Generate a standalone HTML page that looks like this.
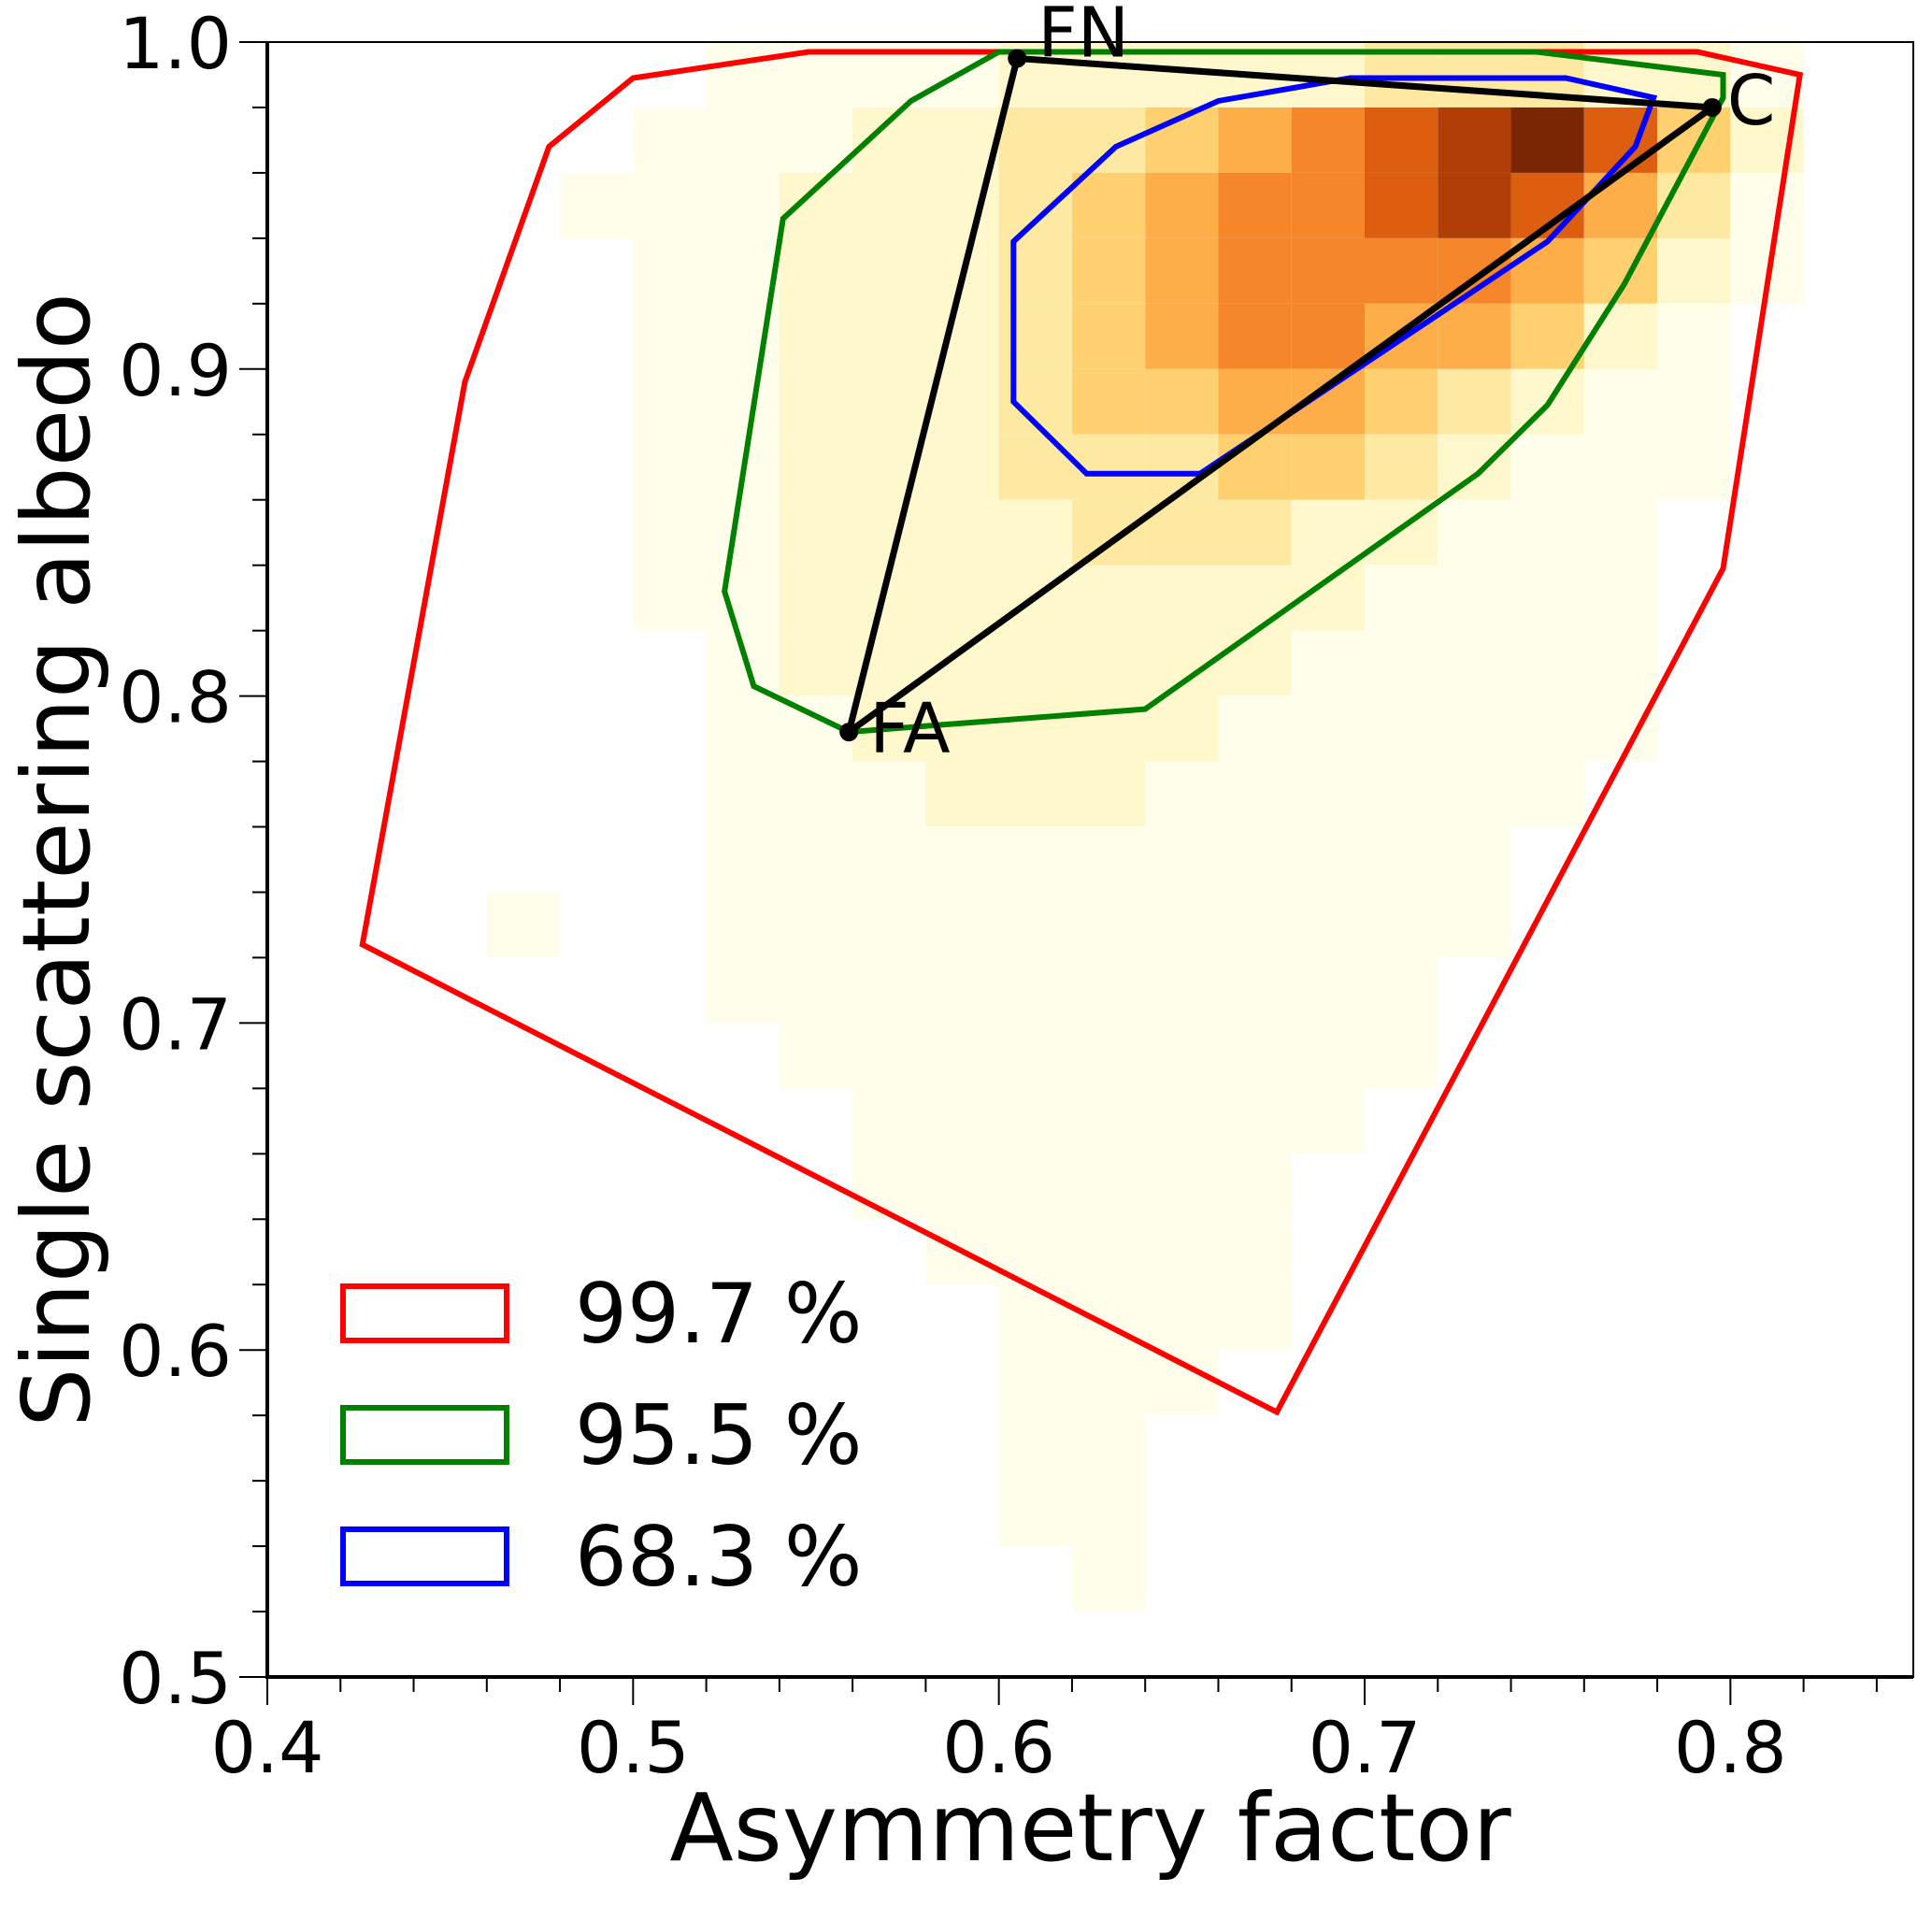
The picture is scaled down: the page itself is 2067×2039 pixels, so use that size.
<!DOCTYPE html>
<html><head><meta charset="utf-8"><style>
html,body{margin:0;padding:0;background:#fff}
svg text{font-family:"DejaVu Sans","Liberation Sans",sans-serif;fill:#000}
</style></head><body>
<svg id="chart" width="2067" height="2034" viewBox="0 0 2067 2034" xmlns="http://www.w3.org/2000/svg">
<g id="heat"></g>
<g id="polys"></g>
<g id="axes"></g>
<g id="legend"></g>
</svg>
<script>
// heatmap rows: top (0.98-1.00) down to (0.50-0.52), columns x 0.40..0.84 step 0.02
const heatRows = [
"0000001111222223332210",
"0000011122334567897420",
"0000111222345667875310",
"0000011222345666654210",
"0000011222345665542100",
"0000011222344554321100",
"0000011222333443211100",
"0000011222233322111000",
"0000011222222221111000",
"0000001222222211111000",
"0000001122222111111000",
"0000001112221111110000",
"0000001111111111100000",
"0001001111111111100000",
"0000001111111111000000",
"0000000111111111000000",
"0000000011111110000000",
"0000000011111100000000",
"0000000001111100000000",
"0000000000111100000000",
"0000000000111000000000",
"0000000000110000000000",
"0000000000110000000000",
"0000000000010000000000",
"0000000000000000000000"];
const heatX0 = 0.40, heatY0 = 1.00, heatStep = 0.02;
const redX = [0.477,0.500,0.548,0.791,0.819,0.798,0.676,0.426,0.454];
const redY = [0.968,0.989,0.997,0.997,0.990,0.839,0.581,0.724,0.896];
const greenX = [0.600,0.747,0.798,0.798,0.771,0.750,0.731,0.640,0.559,0.533,0.525,0.541,0.576];
const greenY = [0.997,0.997,0.990,0.983,0.926,0.889,0.868,0.796,0.789,0.803,0.832,0.946,0.982];
const blueX = [0.604,0.604,0.624,0.655,0.750,0.774,0.779,0.755,0.696,0.660,0.632];
const blueY = [0.939,0.890,0.868,0.868,0.939,0.968,0.983,0.989,0.989,0.982,0.968];
const triNames = ["FN","C","FA"];
const triX = [0.605,0.795,0.559];
const triY = [0.995,0.980,0.789];
const xTicks = ["0.4","0.5","0.6","0.7","0.8"];
const yTicks = ["0.5","0.6","0.7","0.8","0.9","1.0"];
const legendLabels = ["99.7 %","95.5 %","68.3 %"];

const L=286,R=2047,T=45,B=1794;
const sx = v => L + (v-0.4)/0.45*(R-L);
const sy = v => B - (v-0.5)/0.5*(B-T);
const NS="http://www.w3.org/2000/svg";
function mk(tag,parent,attrs){const e=document.createElementNS(NS,tag);for(const k in attrs)e.setAttribute(k,attrs[k]);parent.appendChild(e);return e;}
const colors=["#ffffff","#fffeea","#fff8cc","#fee9a2","#fed070","#feae48","#f5862a","#de5e10","#b03e06","#7a2504"];
const heat=document.getElementById('heat');
heatRows.forEach((row,ri)=>{
  for(let ci=0;ci<row.length;ci++){
    const lv=+row[ci]; if(!lv) continue;
    const x0=heatX0+ci*heatStep, y1=heatY0-ri*heatStep;
    const x=Math.max(L,sx(x0)), x2=Math.min(R,sx(x0+heatStep));
    const r=mk('rect',heat,{x:x,y:sy(y1),width:x2-x,height:sy(y1-heatStep)-sy(y1),fill:colors[lv]});
    
    
  }
});
const polys=document.getElementById('polys');
function poly(xs,ys,col,name){
  const pts=xs.map((v,i)=>sx(v)+','+sy(ys[i])).join(' ');
  const p=mk('polygon',polys,{points:pts,fill:'none',stroke:col,'stroke-width':6,'stroke-linejoin':'miter'});
  
  
}
poly(redX,redY,'#ff0000','contour-99-7');
poly(greenX,greenY,'#008000','contour-95-5');
poly(blueX,blueY,'#0000ff','contour-68-3');
const tri=mk('polygon',polys,{points:triX.map((v,i)=>sx(v)+','+sy(triY[i])).join(' '),fill:'none',stroke:'#000','stroke-width':7});


const offs=[[22,-2],[16,18],[22,22]];
triNames.forEach((n,i)=>{
  const c=mk('circle',polys,{cx:sx(triX[i]),cy:sy(triY[i]),r:10,fill:'#000'});
  
  
  const t=mk('text',polys,{x:sx(triX[i])+offs[i][0],y:sy(triY[i])+offs[i][1],'font-size':74});
  t.textContent=n;
  
  
});
const ax=document.getElementById('axes');
const frame=mk('rect',ax,{x:L,y:T,width:R-L,height:B-T,fill:'none',stroke:'#000','stroke-width':2});


mk('line',ax,{x1:L,y1:T,x2:L,y2:B+2,stroke:'#000','stroke-width':4});
mk('line',ax,{x1:L-2,y1:B,x2:R,y2:B,stroke:'#000','stroke-width':4});
for(let i=0;i<=22;i++){const v=0.4+i*0.02;const major=i%5===0;const x=sx(v);if(x>R+1)break;
  mk('line',ax,{x1:x,y1:B,x2:x,y2:B+(major?30:16),stroke:'#000','stroke-width':2});}
for(let i=0;i<=25;i++){const v=0.5+i*0.02;const major=i%5===0;const y=sy(v);
  mk('line',ax,{x1:L,y1:y,x2:L-(major?30:16),y2:y,stroke:'#000','stroke-width':2});}
xTicks.forEach(s=>{const t=mk('text',ax,{x:sx(+s),y:B+102,'font-size':76,'text-anchor':'middle'});t.textContent=s;
  
  });
yTicks.forEach(s=>{const t=mk('text',ax,{x:L-38,y:sy(+s)+28,'font-size':76,'text-anchor':'end'});t.textContent=s;
  
  });
const xl=mk('text',ax,{x:(L+R)/2,y:1990,'font-size':100,'text-anchor':'middle'});xl.textContent='Asymmetry factor';


const yl=mk('text',ax,{x:0,y:0,'font-size':100,'text-anchor':'middle',transform:'translate(95,920) rotate(-90)'});yl.textContent='Single scattering albedo';


const lg=document.getElementById('legend');
const lcol=['#ff0000','#008000','#0000ff'];
legendLabels.forEach((s,i)=>{const y=1376+i*130;
  const r=mk('rect',lg,{x:367,y:y,width:175,height:58,fill:'none',stroke:lcol[i],'stroke-width':6});
  
  
  const t=mk('text',lg,{x:615,y:y+60,'font-size':88});t.textContent=s;
  
  
});
</script>
</body></html>
